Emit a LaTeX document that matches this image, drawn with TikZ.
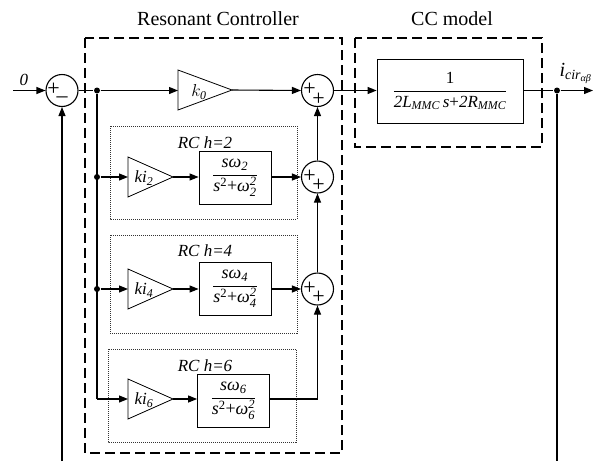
\documentclass[tikz,border=0pt]{standalone}
\usepackage{fontspec}
\setmainfont{Liberation Serif}
\usepackage{amsmath}
\usetikzlibrary{arrows.meta}
\newcommand\itx[1]{\text{\itshape #1}}
\begin{document}
\begin{tikzpicture}[x=1pt,y=-1pt,line width=1.1pt,
  >={Triangle[length=9pt,width=7pt]},
  sumnode/.style={circle,draw,minimum size=32pt,inner sep=0pt},
  gaintxt/.style={inner sep=0pt,font=\fontsize{17}{17}\selectfont\itshape},
  tri/.style={draw,line width=0.8pt},
  tfbox/.style={draw,line width=0.8pt,minimum width=72pt,minimum height=53pt,inner sep=0pt,font=\fontsize{18}{18}\selectfont},
  dot/.style={circle,fill,inner sep=0pt,minimum size=6pt},
  sign/.style={font=\fontsize{22}{22}\selectfont,inner sep=0pt},
  outerbox/.style={draw,line width=1.1pt,dash pattern=on 10pt off 5pt},
  rcbox/.style={draw,line width=0.6pt,dash pattern=on 1pt off 1pt,black!80},
  title/.style={font=\fontsize{20}{20}\selectfont},
  rclabel/.style={font=\fontsize{17}{17}\selectfont\itshape}
]
\useasboundingbox (0,0) rectangle (594,461);
% frames
\draw[outerbox] (85,38) rectangle (342,453);
\draw[outerbox] (355,38) rectangle (542,147);
\draw[rcbox] (110,126) rectangle (297,219);
\draw[rcbox] (110,235) rectangle (297,333);
\draw[rcbox] (108,349) rectangle (296,442);
\node[title] (t1) at (218,19) {Resonant Controller};
\node[title] (t2) at (452,19) {CC model};
\node[rclabel] (l2) at (205,143) {RC h=2};
\node[rclabel] (l4) at (205,251) {RC h=4};
\node[rclabel] (l6) at (205,366) {RC h=6};
% summers
\node[sumnode] (s0) at (62,90.5) {};
\node[sumnode] (sA) at (317.5,90.5) {};
\node[sumnode] (sB) at (317.5,177) {};
\node[sumnode] (sC) at (317.5,289) {};
\node[sign] (p0) at (53.5,89.5) {+};
\node[sign] (m0) at (62,100) {\textendash};
\node[sign] (pA1) at (309.5,89.5) {+};
\node[sign] (pA2) at (318.5,99) {+};
\node[sign] (pB1) at (309.5,176) {+};
\node[sign] (pB2) at (318.5,185.5) {+};
\node[sign] (pC1) at (309.5,288) {+};
\node[sign] (pC2) at (318.5,297.5) {+};
% gains (triangles)
\draw[tri] (178,70) -- (232,90) -- (178,110) -- cycle;
\coordinate (k0w) at (178,90); \coordinate (k0e) at (232,90);
\node[gaintxt] (k0) at (199,92) {$k_{\itx{0}}$};
\draw[tri] (128,157) -- (173,177) -- (128,197) -- cycle;
\coordinate (k2w) at (128,177); \coordinate (k2e) at (173,177);
\node[gaintxt] (k2) at (144,178) {$\itx{ki}_{\itx{2}}$};
\draw[tri] (128,269) -- (173,289) -- (128,309) -- cycle;
\coordinate (k4w) at (128,289); \coordinate (k4e) at (173,289);
\node[gaintxt] (k4) at (144,290) {$\itx{ki}_{\itx{4}}$};
\draw[tri] (128,379) -- (173,399) -- (128,419) -- cycle;
\coordinate (k6w) at (128,399); \coordinate (k6e) at (173,399);
\node[gaintxt] (k6) at (144,400) {$\itx{ki}_{\itx{6}}$};
% transfer functions
\node[tfbox] (f2) at (235,178) {$\dfrac{\itx{sω}_{\itx{2}}}{\itx{s}^{\text{2}}\text{+}\itx{ω}^{\itx{2}}_{\itx{2}}}$};
\node[tfbox] (f4) at (235,289) {$\dfrac{\itx{sω}_{\itx{4}}}{\itx{s}^{\text{2}}\text{+}\itx{ω}^{\itx{2}}_{\itx{4}}}$};
\node[tfbox] (f6) at (233.5,401) {$\dfrac{\itx{sω}_{\itx{6}}}{\itx{s}^{\text{2}}\text{+}\itx{ω}^{\itx{2}}_{\itx{6}}}$};
\node[draw,line width=0.8pt,minimum width=146pt,minimum height=64pt,inner sep=0pt,font=\fontsize{17}{17}\selectfont] (cc) at (450,91)
  {$\dfrac{\text{1}}{\itx{2L}_{\itx{MMC}}\,\itx{s}\text{+}\itx{2R}_{\itx{MMC}}}$};
% dots and coordinates
\node[dot] (d0) at (97,90.5) {};
\node[dot] (d2) at (97,177) {};
\node[dot] (d4) at (97,289) {};
\node[dot] (dout) at (557,90.5) {};
\coordinate (c6) at (97,399);
\coordinate (in) at (13,90.5);
\coordinate (out) at (593,90.5);
\coordinate (fbR) at (557,461);
\coordinate (fbL) at (62,461);
\node[font=\fontsize{17}{17}\selectfont\itshape] (zero) at (24,80) {0};
\node[anchor=south west,inner sep=0pt,font=\fontsize{20}{20}\selectfont] (ilab) at (559,84) {$\itx{i}_{\itx{cir}_{\itx{αβ}}}$};
% connectors
\draw[->] (in) -- (s0.west);
\draw (s0.east) -- (d0);
\draw[->] (d0) -- (k0w |- d0);
\draw[->] (k0e) -- (sA.west);
\draw[->] (sA.east) -- (cc.west |- sA);
\draw (cc.east |- dout) -- (dout);
\draw[->] (dout) -- (out);
\draw (d0) -- (c6);
\draw[->] (d2) -- (k2w);
\draw[->] (d4) -- (k4w);
\draw[->] (c6) -- (k6w);
\draw[->] (k2e) -- (f2.west |- k2e);
\draw[->] (k4e) -- (f4.west |- k4e);
\draw[->] (k6e) -- (f6.west |- k6e);
\draw[->] (f2.east |- sB) -- (sB.west);
\draw[->] (f4.east |- sC) -- (sC.west);
\draw[->] (f6.east |- k6e) -| (sC.south);
\draw[->] (sC.north) -- (sB.south);
\draw[->] (sB.north) -- (sA.south);
\draw (dout) -- (fbR);
\draw[->] (fbL) -- (s0.south);
\end{tikzpicture}
\end{document}
